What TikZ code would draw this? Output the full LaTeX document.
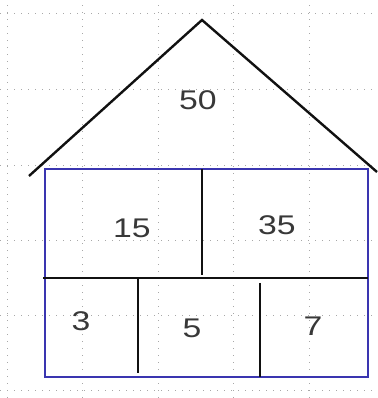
\documentclass[tikz,border=0pt]{standalone}
\usepackage{fontspec}
\setmainfont{Liberation Sans}
\newfontfamily\numfont[FakeStretch=1.25]{Liberation Sans}
\usepackage{xcolor}
\definecolor{HouseBlue}{HTML}{3A35B0}
\definecolor{HouseBlack}{HTML}{111111}
\definecolor{HouseText}{HTML}{383838}
\definecolor{HouseGrid}{HTML}{A8A8A8}
\tikzset{
    % Background grid - dotted
    gridline/.style={
        draw=HouseGrid,
        line width=0.8pt,
        dash pattern=on 1pt off 6pt
    },
    % Outline and wall styles
    wall/.style={
        draw=HouseBlue,
        line width=1.8pt
    },
    beam/.style={
        draw=HouseBlack,
        line width=2.4pt
    },
    % Number labels
    num/.style={
        text=HouseText,
        font=\numfont\fontsize{27}{31}\selectfont,
        inner sep=0pt
    }
}

\begin{document}
\begin{tikzpicture}[x=1pt, y=1pt]
    \useasboundingbox (0,0) rectangle (377,398);
    \fill[white] (0,0) rectangle (377,398);

    % grid
    \foreach \gx in {7,82.5,158,233.5,309}
        \draw[gridline] (\gx,0) -- (\gx,398);
    \foreach \gy in {8,83,158,233,309,385}
        \draw[gridline] (0,\gy) -- (377,\gy);

    % corners
    \coordinate (apex) at (202,378);
    \coordinate (eaveL) at (29,222);
    \coordinate (eaveR) at (377,226);
    \coordinate (sw) at (45,21);
    \coordinate (ne) at (368,229);
    \coordinate (floorL) at (43,120);
    \coordinate (floorR) at (368,120);
    \coordinate (upTop) at (202,229);
    \coordinate (upBot) at (202,123);
    \coordinate (lowAtop) at (138,120);
    \coordinate (lowAbot) at (138,25);
    \coordinate (lowBtop) at (260,115);
    \coordinate (lowBbot) at (260,21);

    % roof
    \draw[beam, line join=miter] (eaveL) -- (apex) -- (eaveR);

    % house
    \draw[wall] (sw) rectangle (ne);
    \draw[beam] (floorL) -- (floorR);
    \draw[beam] (upTop) -- (upBot);
    \draw[beam] (lowAtop) -- (lowAbot);
    \draw[beam] (lowBtop) -- (lowBbot);

    % numbers
    \node[num] (roof) at (198,298) {50};
    \node[num] (left) at (132,170) {15};
    \node[num] (right) at (277,173) {35};
    \node[num] (three) at (81,77) {3};
    \node[num] (five) at (192,70) {5};
    \node[num] (seven) at (313,72) {7};
\end{tikzpicture}
\end{document}
